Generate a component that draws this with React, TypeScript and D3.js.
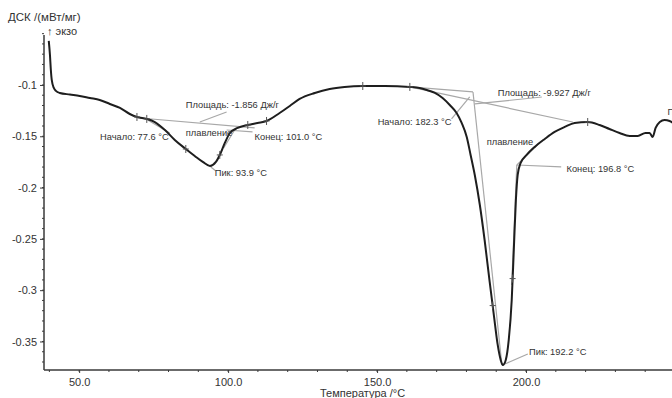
import { useEffect, useRef } from "react"
import * as d3 from "d3"

// DSC trace: temperature (°C) and heat flow (mW/mg)
const temps = [
  39.8, 40.2, 40.5, 40.8, 41.5, 42.2, 43.5, 46.9, 50.2, 53.6, 56.9, 60.3, 63.7, 67.0, 69.4, 72.7, 75.4,
  78.8, 82.1, 85.8, 88.8, 91.5, 93.9, 95.9, 97.2, 98.9, 100.6, 103.2, 106.6, 109.9, 112.9, 117.3, 120.7,
  124.0, 129.1, 134.1, 139.1, 145.2, 152.6, 161.0, 164.3, 166.7, 169.4, 172.0, 174.4, 176.7, 178.4, 180.1,
  181.4, 182.8, 184.5, 186.1, 187.8, 189.2, 190.5, 191.5, 192.2, 193.2, 194.2, 195.2, 195.9, 196.6, 197.2,
  198.2, 200.2, 202.9, 206.3, 209.6, 213.0, 216.3, 220.7, 224.7, 228.0, 231.4, 234.8, 237.5, 240.1, 241.5,
  242.5, 243.5, 244.9, 246.5, 248.2, 249.9,
]
const dsc = [
  -0.0571, -0.0708, -0.0854, -0.0951, -0.1029, -0.1058, -0.1078, -0.1093, -0.1107, -0.1127, -0.1146,
  -0.1185, -0.1224, -0.1283, -0.1312, -0.1331, -0.1361, -0.1439, -0.1536, -0.1624, -0.1692, -0.175,
  -0.1789, -0.175, -0.1682, -0.1565, -0.1468, -0.1419, -0.139, -0.137, -0.1351, -0.1273, -0.1205, -0.1136,
  -0.1078, -0.1039, -0.1019, -0.101, -0.101, -0.1019, -0.1029, -0.1049, -0.1078, -0.1127, -0.1195, -0.1273,
  -0.137, -0.1507, -0.1682, -0.1877, -0.217, -0.2511, -0.292, -0.3242, -0.3534, -0.368, -0.3729, -0.368,
  -0.3485, -0.3096, -0.2608, -0.2121, -0.1877, -0.176, -0.1682, -0.1604, -0.1526, -0.1458, -0.1409, -0.137,
  -0.1361, -0.139, -0.1429, -0.1468, -0.1497, -0.1497, -0.1468, -0.1468, -0.1507, -0.1419, -0.1361,
  -0.1341, -0.1351, -0.138,
]

const xTicks = [50, 100, 150, 200]
const yTicks = [-0.35, -0.3, -0.25, -0.2, -0.15, -0.1]

// evaluation markers on the curve
const markerTemps = [69.4, 72.7, 85.8, 97.2, 106.6, 112.9, 145.2, 161.0, 188.8, 195.5, 220.7]

// construction lines: [T1, v1, T2, v2]
const guideLines = [
  [70.4, -0.1322, 108.9, -0.1419],
  [73.0, -0.1341, 80.4, -0.1468],
  [90.5, -0.1361, 99.5, -0.1263],
  [99.5, -0.1439, 108.2, -0.1458],
  [98.5, -0.1614, 102.6, -0.1419],
  [94.2, -0.1799, 95.9, -0.1838],
  [161.0, -0.1019, 182.2, -0.1068],
  [161.0, -0.1019, 215.7, -0.1361],
  [182.2, -0.1068, 191.9, -0.3729],
  [175.0, -0.1331, 181.1, -0.1117],
  [182.8, -0.1185, 205.3, -0.1117],
  [195.2, -0.2949, 196.9, -0.178],
  [196.9, -0.178, 204.6, -0.1565],
  [196.9, -0.178, 211.8, -0.1799],
  [192.9, -0.3719, 200.6, -0.3622],
]

const labelTexts = [
  "Площадь: -1.856 Дж/г",
  "Начало: 77.6 °C",
  "плавление",
  "Конец: 101.0 °C",
  "Пик: 93.9 °C",
  "Начало: 182.3 °C",
  "Площадь: -9.927 Дж/г",
  "плавление",
  "Конец: 196.8 °C",
  "Пик: 192.2 °C",
  "Пик",
]
const labelTemps = [85.8, 57.0, 85.8, 108.9, 95.5, 150.2, 190.5, 186.8, 213.6, 201.0, 247.5]
const labelValues = [-0.1195, -0.1507, -0.1468, -0.1507, -0.1858, -0.1361, -0.1078, -0.1556, -0.1819, -0.3602, -0.1263]

export default function App() {
  const ref = useRef<SVGSVGElement>(null)

  useEffect(() => {
    document.body.style.margin = "0"
    if (!ref.current) return
    const svg = d3.select(ref.current)
    svg.selectAll("*").remove()

    const W = 672
    const H = 398
    const font = "'Liberation Sans', Arial, sans-serif"
    svg.attr("width", W).attr("height", H).attr("viewBox", `0 0 ${W} ${H}`)

    const x = d3.scaleLinear().domain([38.2, 249]).range([44, 672])
    const y = d3.scaleLinear().domain([-0.3778, -0.0513]).range([370, 35])

    const pts = temps.map((t, i) => [t, dsc[i]] as [number, number])
    const valueAt = (t: number) => {
      const i = d3.bisector((d: [number, number]) => d[0]).left(pts, t)
      if (i <= 0) return pts[0][1]
      if (i >= pts.length) return pts[pts.length - 1][1]
      const [t0, v0] = pts[i - 1]
      const [t1, v1] = pts[i]
      return v0 + ((t - t0) / (t1 - t0)) * (v1 - v0)
    }

    const axisColor = "#3a3a3a"
    const textColor = "#333"

    // Y axis
    const yAx = svg.append("g").attr("transform", `translate(44,0)`)
    yAx
      .call(
        d3
          .axisLeft(y)
          .tickValues(yTicks)
          .tickSize(4)
          .tickPadding(3)
          .tickFormat((d) => String(+(+d).toFixed(2)))
      )
      .call((ax) => ax.select(".domain").remove())
      .call((ax) => ax.selectAll(".tick line").attr("stroke", axisColor))
      .call((ax) =>
        ax.selectAll(".tick text").attr("fill", textColor).attr("font-size", 11).attr("font-family", font)
      )
    yAx
      .selectAll("line.minor")
      .data(d3.range(-0.37, -0.045, 0.01))
      .join("line")
      .attr("class", "minor")
      .attr("x1", -2)
      .attr("x2", 0)
      .attr("y1", (d) => y(d))
      .attr("y2", (d) => y(d))
      .attr("stroke", axisColor)
    yAx.append("line").attr("x1", 0).attr("x2", 0).attr("y1", 35).attr("y2", 370).attr("stroke", axisColor).attr("stroke-width", 1.5)

    // X axis
    const xAx = svg.append("g").attr("transform", `translate(0,370)`)
    xAx
      .call(
        d3
          .axisBottom(x)
          .tickValues(xTicks)
          .tickSize(3)
          .tickPadding(5)
          .tickFormat((d) => (+d).toFixed(1))
      )
      .call((ax) => ax.select(".domain").remove())
      .call((ax) => ax.selectAll(".tick line").attr("stroke", axisColor))
      .call((ax) =>
        ax.selectAll(".tick text").attr("fill", textColor).attr("font-size", 11).attr("font-family", font)
      )
    xAx
      .selectAll("line.minor")
      .data(d3.range(40, 250, 10))
      .join("line")
      .attr("class", "minor")
      .attr("x1", (d) => x(d))
      .attr("x2", (d) => x(d))
      .attr("y1", 0)
      .attr("y2", 2)
      .attr("stroke", axisColor)
    xAx.append("line").attr("x1", 44).attr("x2", 672).attr("y1", 0).attr("y2", 0).attr("stroke", axisColor).attr("stroke-width", 1.5)

    // titles
    svg
      .append("text")
      .attr("x", 8)
      .attr("y", 21)
      .attr("font-size", 11.5)
      .attr("font-family", font)
      .attr("fill", textColor)
      .text("ДСК /(мВт/мг)")
    svg
      .append("text")
      .attr("x", 47)
      .attr("y", 35)
      .attr("font-size", 11)
      .attr("font-family", font)
      .attr("fill", textColor)
      .text("↑ экзо")
    svg
      .append("text")
      .attr("x", 320)
      .attr("y", 397)
      .attr("font-size", 11)
      .attr("font-family", font)
      .attr("fill", textColor)
      .text("Температура /°C")

    // construction lines
    svg
      .append("g")
      .selectAll("line")
      .data(guideLines)
      .join("line")
      .attr("x1", (d) => x(d[0]))
      .attr("y1", (d) => y(d[1]))
      .attr("x2", (d) => x(d[2]))
      .attr("y2", (d) => y(d[3]))
      .attr("stroke", "#a8a8a8")
      .attr("stroke-width", 1.2)

    // curve
    const line = d3
      .line<[number, number]>()
      .x((d) => x(d[0]))
      .y((d) => y(d[1]))
      .curve(d3.curveMonotoneX)

    svg
      .append("path")
      .datum(pts)
      .attr("fill", "none")
      .attr("stroke", "#1e1e1e")
      .attr("stroke-width", 2)
      .attr("d", line)

    // markers
    const mk = svg
      .append("g")
      .selectAll("g")
      .data(markerTemps)
      .join("g")
      .attr("transform", (t) => `translate(${x(t)},${y(valueAt(t))})`)
    mk.append("line").attr("x1", 0).attr("x2", 0).attr("y1", -4).attr("y2", 4).attr("stroke", "#555")
    mk.append("line").attr("x1", -3).attr("x2", 3).attr("y1", 0).attr("y2", 0).attr("stroke", "#555")

    // labels
    svg
      .append("g")
      .selectAll("text")
      .data(labelTexts)
      .join("text")
      .attr("x", (_, i) => x(labelTemps[i]))
      .attr("y", (_, i) => y(labelValues[i]))
      .attr("dy", "0.35em")
      .attr("font-size", 9.3)
      .attr("font-family", font)
      .attr("fill", textColor)
      .text((d) => d)
  }, [])

  return <svg ref={ref} style={{ display: "block" }} />
}
